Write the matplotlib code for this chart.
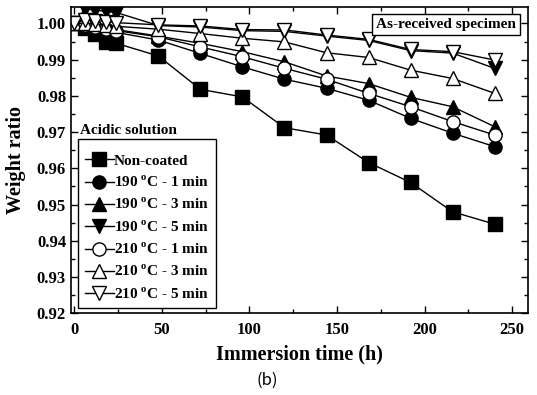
import matplotlib
matplotlib.use('Agg')
import matplotlib.pyplot as plt
from matplotlib.ticker import MultipleLocator, FormatStrFormatter

# immersion time (h)
time_h = [0, 6, 12, 18, 24, 48, 72, 96, 120, 144, 168, 192, 216, 240]

non_coated = [1.000, 0.9987, 0.9972, 0.9949, 0.9945, 0.9910, 0.9818, 0.9797,
              0.9712, 0.9692, 0.9616, 0.9561, 0.9480, 0.9446]
c190_1 = [1.000, 0.9995, 0.9990, 0.9980, 0.9975, 0.9954, 0.9917, 0.9880,
          0.9846, 0.9821, 0.9788, 0.9738, 0.9697, 0.9660]
c190_3 = [1.000, 0.9997, 0.9993, 0.9988, 0.9983, 0.9965, 0.9945, 0.9922,
          0.9894, 0.9855, 0.9834, 0.9796, 0.9770, 0.9715]
c190_5 = [1.000, 1.0040, 1.0037, 1.0033, 1.0030, 0.9994, 0.9990, 0.9980,
          0.9978, 0.9965, 0.9953, 0.9925, 0.9918, 0.9876]
c210_1 = [1.000, 0.9996, 0.9991, 0.9985, 0.9980, 0.9963, 0.9935, 0.9908,
          0.9876, 0.9846, 0.9807, 0.9770, 0.9729, 0.9692]
c210_3 = [1.000, 1.000, 0.9998, 0.9995, 0.9992, 0.9984, 0.9972, 0.9959,
          0.9949, 0.9919, 0.9906, 0.9871, 0.9848, 0.9807]
c210_5 = [1.000, 1.001, 1.0008, 1.0005, 1.0002, 0.9996, 0.9993, 0.9983,
          0.9982, 0.9968, 0.9956, 0.9928, 0.9922, 0.9899]

series = [
    (non_coated, 's', 'black', 'Non-coated'),
    (c190_1, 'o', 'black', '190 $^{\\mathregular{o}}$C - 1 min'),
    (c190_3, '^', 'black', '190 $^{\\mathregular{o}}$C - 3 min'),
    (c190_5, 'v', 'black', '190 $^{\\mathregular{o}}$C - 5 min'),
    (c210_1, 'o', 'white', '210 $^{\\mathregular{o}}$C - 1 min'),
    (c210_3, '^', 'white', '210 $^{\\mathregular{o}}$C - 3 min'),
    (c210_5, 'v', 'white', '210 $^{\\mathregular{o}}$C - 5 min'),
]

plt.rcParams['font.family'] = 'Liberation Serif'
plt.rcParams['font.weight'] = 'bold'
plt.rcParams['mathtext.fontset'] = 'custom'
plt.rcParams['mathtext.rm'] = 'Liberation Serif:bold'

fig = plt.figure(figsize=(5.37, 3.95), dpi=100)
ax = fig.add_axes([0.132, 0.207, 0.851, 0.775])

for vals, mk, fc, lab in series:
    ax.plot(time_h, vals, color='black', lw=1, marker=mk, markersize=9.5,
            markerfacecolor=fc, markeredgecolor='black', markeredgewidth=1,
            label=lab)

ax.set_xlim(-2, 259)
ax.set_ylim(0.92, 1.0045)
ax.xaxis.set_major_locator(MultipleLocator(50))
ax.xaxis.set_minor_locator(MultipleLocator(25))
ax.yaxis.set_major_locator(MultipleLocator(0.01))
ax.yaxis.set_minor_locator(MultipleLocator(0.005))
ax.yaxis.set_major_formatter(FormatStrFormatter('%.2f'))
ax.tick_params(which='both', direction='in', top=True, right=True, labelsize=12, width=1)
ax.tick_params(axis='x', pad=6)
ax.tick_params(which='major', length=5)
ax.tick_params(which='minor', length=3)
for s in ax.spines.values():
    s.set_linewidth(1.2)

ax.set_xlabel('Immersion time (h)', fontsize=14.5, fontweight='bold', labelpad=5)
ax.set_ylabel('Weight ratio', fontsize=14.5, fontweight='bold', labelpad=8)

leg = ax.legend(loc='lower left', bbox_to_anchor=(0.015, 0.016), borderaxespad=0,
                fontsize=11, handlelength=1.9, handletextpad=0.0, labelspacing=0.45,
                borderpad=0.45, fancybox=False, edgecolor='black', framealpha=1,
                title=' ', title_fontsize=1.5)
leg.get_frame().set_linewidth(1)

ax.text(0.02, 0.575, 'Acidic solution', transform=ax.transAxes, fontsize=11,
        fontweight='bold', va='bottom', ha='left')
ax.text(0.974, 0.965, 'As-received specimen', transform=ax.transAxes, fontsize=11,
        fontweight='bold', va='top', ha='right',
        bbox=dict(boxstyle='square,pad=0.25', fc='white', ec='black', lw=1))

fig.text(0.497, 0.038, '(b)', fontsize=12, fontweight='normal',
         family=['Noto Sans CJK KR', 'DejaVu Sans'], ha='center', va='center')

fig.savefig('out.png', dpi=100)
